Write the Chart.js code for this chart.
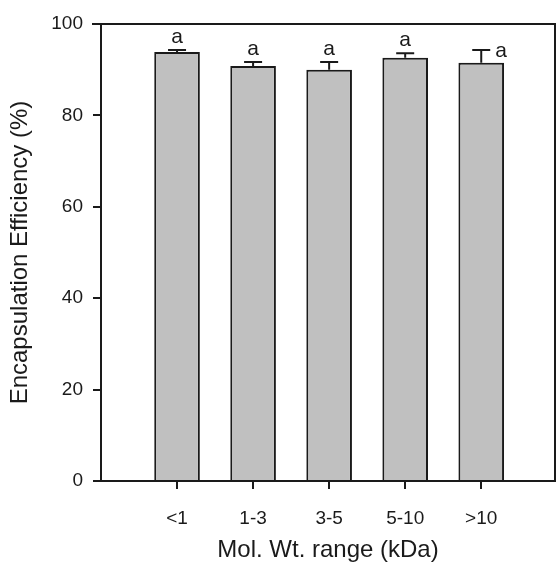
<!DOCTYPE html>
<html>
<head>
<meta charset="utf-8">
<script src="https://cdn.jsdelivr.net/npm/chart.js@4/dist/chart.umd.min.js"></script>
<style>
  html, body { margin: 0; padding: 0; background: #fff; }
  #wrap { width: 556px; height: 573px; }
</style>
</head>
<body>
<div id="wrap"><canvas id="chart"></canvas></div>
<script>
// data
const categories = ['<1', '1-3', '3-5', '5-10', '>10'];
const positions = [1, 2, 3, 4, 5];
const means = [93.9, 90.8, 90.0, 92.6, 91.5];
const errors = [0.4, 0.9, 1.7, 1.0, 2.8];
const letters = ['a', 'a', 'a', 'a', 'a'];
const yTicks = [0, 20, 40, 60, 80, 100];

const FONT = 'Arial, "Liberation Sans", sans-serif';
const INK = '#1a1a1a';

// error bars + significance letters
const errorBars = {
  id: 'errorBars',
  afterDatasetsDraw(chart) {
    const ctx = chart.ctx;
    const meta = chart.getDatasetMeta(0);
    const y = chart.scales.y;
    ctx.save();
    ctx.strokeStyle = INK;
    ctx.lineWidth = 2;
    ctx.fillStyle = INK;
    ctx.font = '21px ' + FONT;
    ctx.textBaseline = 'alphabetic';
    meta.data.forEach((bar, i) => {
      const top = y.getPixelForValue(means[i] + errors[i]);
      const base = y.getPixelForValue(means[i]);
      ctx.beginPath();
      ctx.moveTo(bar.x, base);
      ctx.lineTo(bar.x, top);
      ctx.moveTo(bar.x - 9, top);
      ctx.lineTo(bar.x + 9, top);
      ctx.stroke();
      if (i === letters.length - 1) {
        // last letter sits beside the cap
        ctx.textAlign = 'left';
        ctx.fillText(letters[i], bar.x + 14, top + 7);
      } else {
        ctx.textAlign = 'center';
        ctx.fillText(letters[i], bar.x, top - 7);
      }
    });
    ctx.restore();
  }
};

// top and right frame lines
const frame = {
  id: 'frame',
  afterDraw(chart) {
    const a = chart.chartArea;
    const ctx = chart.ctx;
    ctx.save();
    ctx.strokeStyle = INK;
    ctx.lineWidth = 2;
    ctx.beginPath();
    ctx.moveTo(a.left - 9, a.top);
    ctx.lineTo(a.right, a.top);
    ctx.lineTo(a.right, a.bottom);
    ctx.stroke();
    ctx.restore();
  }
};

new Chart(document.getElementById('chart'), {
  type: 'bar',
  data: {
    datasets: [{
      data: positions.map((x, i) => ({ x: x, y: means[i] })),
      backgroundColor: '#c0c0c0',
      borderColor: INK,
      borderWidth: 2,
      barPercentage: 0.6,
      categoryPercentage: 1
    }]
  },
  options: {
    responsive: true,
    maintainAspectRatio: false,
    animation: false,
    layout: { padding: { top: 24, right: 1, left: 0, bottom: 0 } },
    plugins: { legend: { display: false }, tooltip: { enabled: false } },
    scales: {
      x: {
        type: 'linear',
        offset: false,
        min: 0,
        max: 5.97,
        afterBuildTicks: s => { s.ticks = positions.map(v => ({ value: v })); },
        afterFit: s => { s.height = 92; },
        ticks: {
          callback: (v) => categories[positions.indexOf(v)],
          color: INK,
          font: { family: FONT, size: 19 },
          padding: 18,
          maxRotation: 0,
          autoSkip: false
        },
        grid: { display: true, offset: false, drawOnChartArea: false, drawTicks: true, tickLength: 8, color: INK, lineWidth: 2 },
        border: { display: true, color: INK, width: 2 },
        title: {
          display: true,
          text: 'Mol. Wt. range (kDa)',
          color: INK,
          font: { family: FONT, size: 24 },
          padding: { top: 0, bottom: 8 }
        }
      },
      y: {
        min: 0,
        max: 100,
        afterBuildTicks: s => { s.ticks = yTicks.map(v => ({ value: v })); },
        afterFit: s => { s.width = 101; },
        ticks: {
          color: INK,
          font: { family: FONT, size: 19 },
          padding: 10
        },
        grid: { display: true, drawOnChartArea: false, drawTicks: true, tickLength: 8, color: INK, lineWidth: 2 },
        border: { display: true, color: INK, width: 2 },
        title: {
          display: true,
          text: 'Encapsulation Efficiency (%)',
          color: INK,
          font: { family: FONT, size: 24 },
          padding: { top: 6, bottom: 0 }
        }
      }
    }
  },
  plugins: [errorBars, frame]
});
</script>
</body>
</html>
